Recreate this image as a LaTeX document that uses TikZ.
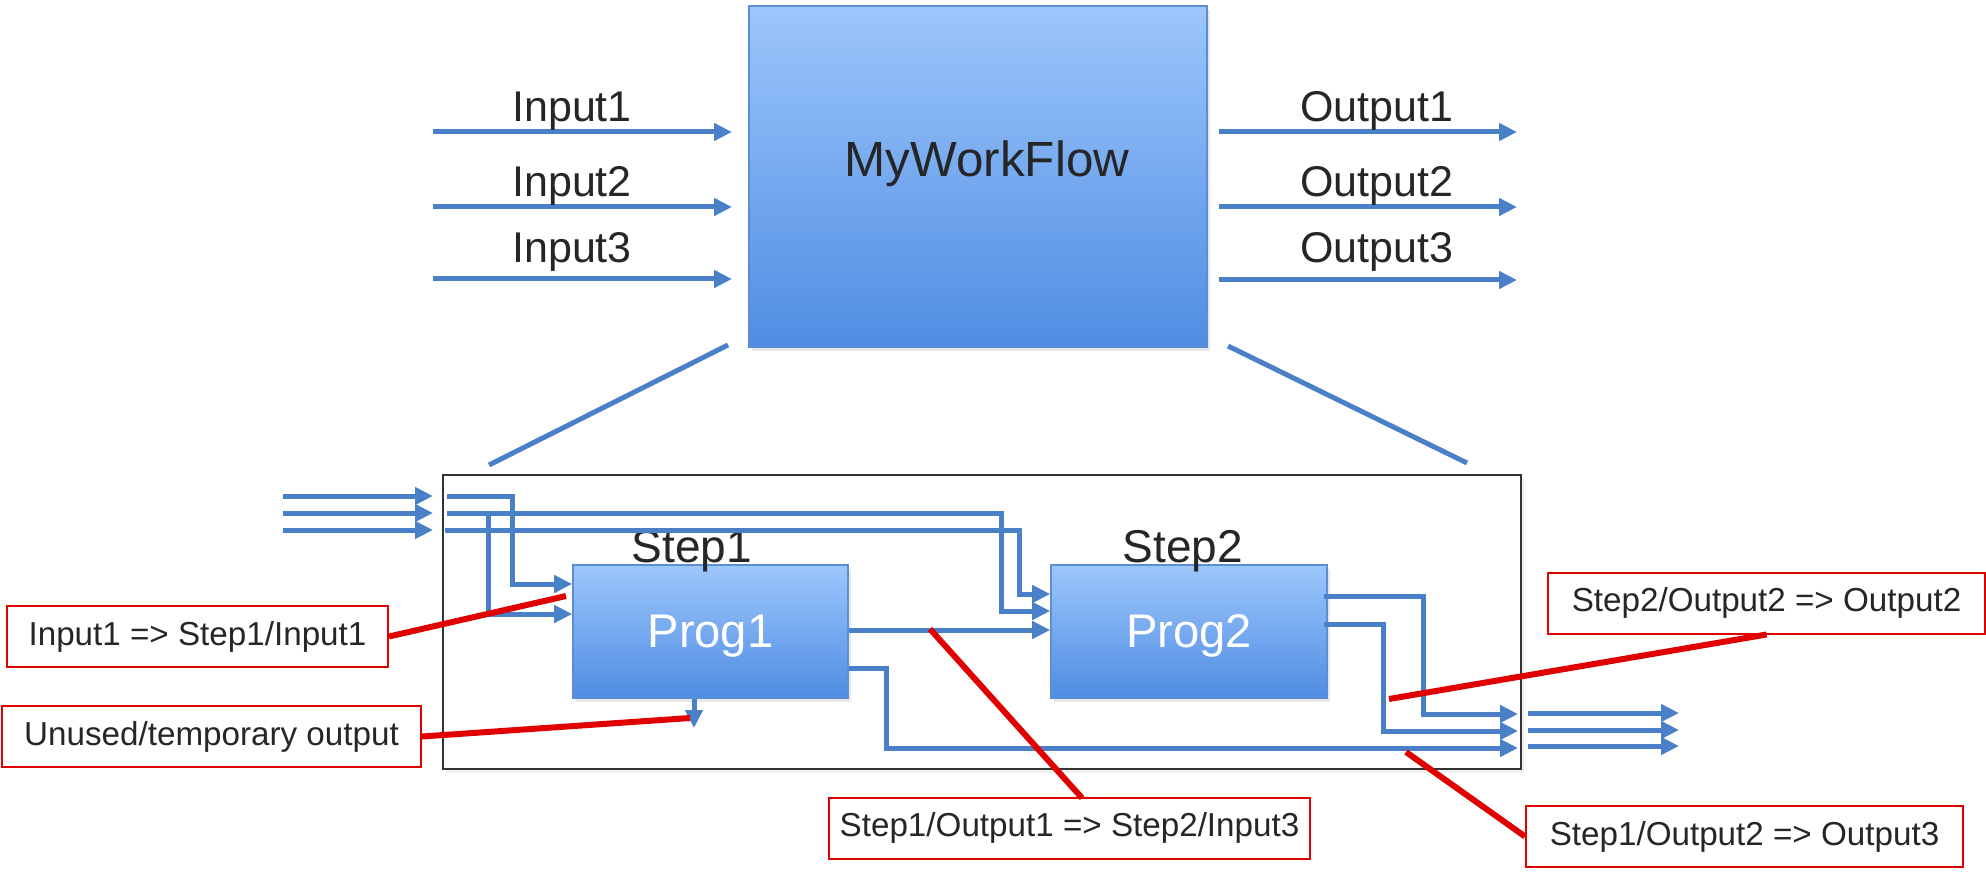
\documentclass[tikz,border=0pt]{standalone}
\usepackage{fontspec}
\setmainfont{Liberation Sans}
\usetikzlibrary{arrows.meta,shadows}
\definecolor{flow}{HTML}{4A80C8}
\definecolor{boxtop}{HTML}{9DC6FC}
\definecolor{boxbot}{HTML}{4F8DE2}
\definecolor{boxedge}{HTML}{5A8ED6}
\definecolor{txt}{HTML}{262626}
\definecolor{callred}{HTML}{E00000}
\begin{document}
\begin{tikzpicture}[x=0.5pt,y=-0.5pt,
  flowline/.style={draw=flow,line width=2.5pt,-{Triangle[length=9pt,width=8.5pt]}},
  plainflow/.style={draw=flow,line width=2.5pt},
  progbox/.style={rectangle,draw=boxedge,line width=0.8pt,top color=boxtop,bottom color=boxbot,inner sep=0pt,
    drop shadow={opacity=0.18,shadow xshift=1.5pt,shadow yshift=-2pt}},
  progtext/.style={text=white,font=\fontsize{23.6}{28}\selectfont,text depth=0pt},
  callout/.style={rectangle,draw=callred,line width=1pt,fill=white,text=txt,
    font=\fontsize{16.6}{20}\selectfont,inner sep=0pt,minimum height=30.5pt},
  calline/.style={draw=callred,line width=3pt},
  iolabel/.style={text=txt,font=\fontsize{21.5}{26}\selectfont,anchor=base,inner sep=0pt},
  steplabel/.style={text=txt,font=\fontsize{23}{28}\selectfont,anchor=base,inner sep=0pt},
  outerbox/.style={rectangle,draw=black!80,line width=1.2pt,inner sep=0pt,
    drop shadow={opacity=0.12,shadow xshift=1.5pt,shadow yshift=-2pt},fill=white},
]
\useasboundingbox (0,0) rectangle (1986,877);

% ---------------- top: the workflow as a whole ----------------
\node[progbox,minimum width=229pt,minimum height=170.5pt] (wf) at (978,176.5) {};
\node[text=txt,font=\fontsize{24.7}{30}\selectfont,anchor=base,inner sep=0pt] (wft) at (987,177) {MyWorkFlow};

\coordinate (ins1) at (433,132); \coordinate (ine1) at (732,132);
\coordinate (ins2) at (433,207); \coordinate (ine2) at (732,207);
\coordinate (ins3) at (433,279); \coordinate (ine3) at (732,279);
\draw[flowline] (ins1) -- (ine1);
\draw[flowline] (ins2) -- (ine2);
\draw[flowline] (ins3) -- (ine3);
\node[iolabel] (inl1) at (572,122) {Input1};
\node[iolabel] (inl2) at (572,197) {Input2};
\node[iolabel] (inl3) at (572,263) {Input3};

\coordinate (ous1) at (1219,132); \coordinate (oue1) at (1517,132);
\coordinate (ous2) at (1219,207); \coordinate (oue2) at (1517,207);
\coordinate (ous3) at (1219,280); \coordinate (oue3) at (1517,280);
\draw[flowline] (ous1) -- (oue1);
\draw[flowline] (ous2) -- (oue2);
\draw[flowline] (ous3) -- (oue3);
\node[iolabel] (oul1) at (1377,122) {Output1};
\node[iolabel] (oul2) at (1377,197) {Output2};
\node[iolabel] (oul3) at (1377,263) {Output3};

% zoom lines
\coordinate (zl1) at (728,345); \coordinate (zl2) at (489,465);
\coordinate (zr1) at (1228,346); \coordinate (zr2) at (1467,463);
\draw[plainflow] (zl1) -- (zl2);
\draw[plainflow] (zr1) -- (zr2);

% ---------------- bottom: inside view ----------------
\node[outerbox,minimum width=539pt,minimum height=147pt] (outer) at (982,622) {};

% external inputs
\coordinate (xa1) at (283,496); \coordinate (xb1) at (433,496);
\coordinate (xa2) at (283,513); \coordinate (xb2) at (433,513);
\coordinate (xa3) at (283,530); \coordinate (xb3) at (433,530);
\draw[flowline] (xa1) -- (xb1);
\draw[flowline] (xa2) -- (xb2);
\draw[flowline] (xa3) -- (xb3);

% external outputs
\coordinate (ya1) at (1528,713); \coordinate (yb1) at (1679,713);
\coordinate (ya2) at (1528,730); \coordinate (yb2) at (1679,730);
\coordinate (ya3) at (1528,746); \coordinate (yb3) at (1679,746);
\draw[flowline] (ya1) -- (yb1);
\draw[flowline] (ya2) -- (yb2);
\draw[flowline] (ya3) -- (yb3);

% programs
\node[progbox,minimum width=137.5pt,minimum height=66.5pt,progtext] (p1) at (710.5,631.5) {Prog1};
\node[progbox,minimum width=138pt,minimum height=66.5pt,progtext] (p2) at (1189,631.5) {Prog2};
\node[steplabel] (s1) at (692,562) {Step1};
\node[steplabel] (s2) at (1183,562) {Step2};

% internal wiring
\coordinate (w1) at (447,496);
\coordinate (w2) at (447,513);
\coordinate (w3) at (445,530);
\draw[flowline] (w1) -- (512,496) -- (512,584) -- (p1.west |- 0,584);
\draw[flowline] (488,513) -- (488,614) -- (p1.west |- 0,614);
\draw[flowline] (w2) -- (1001,513) -- (1001,611) -- (p2.west |- 0,611);
\draw[flowline] (w3) -- (1019,530) -- (1019,594) -- (p2.west |- 0,594);
\draw[flowline] (p1.east |- 0,630) -- (p2.west |- 0,630);
\coordinate (o1) at (1518,748);
\coordinate (o2) at (1518,731);
\coordinate (o3) at (1518,714);
\coordinate (tmp) at (694,728);
\draw[flowline] (p1.east |- 0,668) -- (886,668) -- (886,748) -- (o1);
\draw[flowline] (p1.south -| tmp) -- (tmp);
\draw[flowline] ([xshift=-2pt]p2.east |- 0,596) -- (1423,596) -- (1423,714) -- (o3);
\draw[flowline] ([xshift=-2pt]p2.east |- 0,624) -- (1383,624) -- (1383,731) -- (o2);

% callouts
\node[callout,minimum width=190.5pt] (c1) at (197.5,636.5) {Input1 => Step1/Input1};
\node[callout,minimum width=209.5pt] (c2) at (211.5,736.5) {Unused/temporary output};
\node[callout,minimum width=240.5pt] (c3) at (1069.5,828) {Step1/Output1 => Step2/Input3};
\node[callout,minimum width=218.5pt] (c4) at (1766.5,603) {Step2/Output2 => Output2};
\node[callout,minimum width=218.5pt] (c5) at (1744.5,836.5) {Step1/Output2 => Output3};

\coordinate (t1) at (566,596);
\coordinate (t2) at (690,718);
\coordinate (t3) at (930,629);
\coordinate (t4) at (1389,699);
\coordinate (t5) at (1406,752);
\coordinate (c3top) at (1082,798);
\draw[calline] (c1.east) -- (t1);
\draw[calline] (c2.east) -- (t2);
\draw[calline] (c3top) -- (t3);
\draw[calline] (c4.south) -- (t4);
\draw[calline] (c5.west) -- (t5);
\end{tikzpicture}
\end{document}
